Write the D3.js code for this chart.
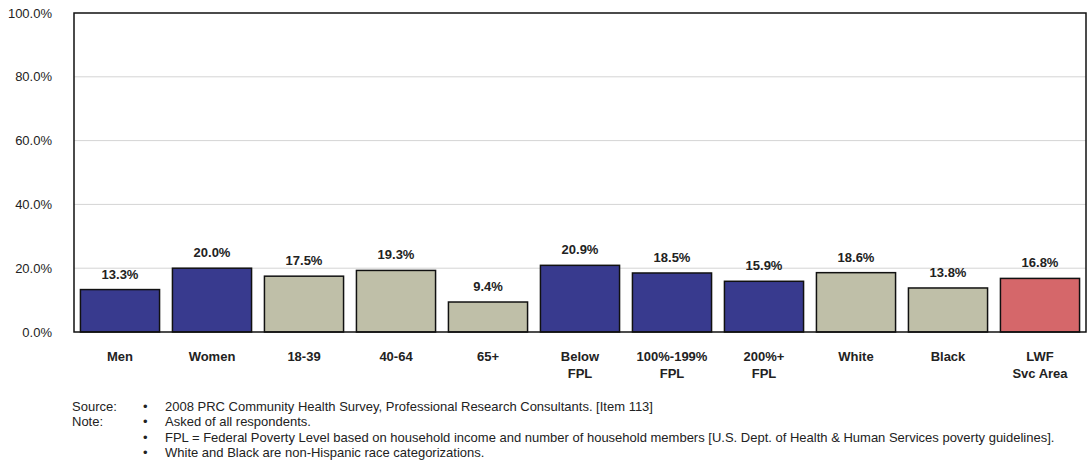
<!DOCTYPE html>
<html>
<head>
<meta charset="utf-8">
<script src="https://cdn.jsdelivr.net/npm/d3@7"></script>
<style>
  body { margin: 0; background: #fff; }
  svg { display: block; font-family: "Liberation Sans", Arial, sans-serif; }
</style>
</head>
<body>
<svg id="chart" width="1091" height="470"></svg>
<script>
// Categories (multi-line labels split on "\n")
const categories = ["Men", "Women", "18-39", "40-64", "65+", "Below\nFPL", "100%-199%\nFPL", "200%+\nFPL", "White", "Black", "LWF\nSvc Area"];
const values = [13.3, 20.0, 17.5, 19.3, 9.4, 20.9, 18.5, 15.9, 18.6, 13.8, 16.8];
const groups = ["sex", "sex", "age", "age", "age", "income", "income", "income", "race", "race", "total"];
const yTicks = [0, 20, 40, 60, 80, 100];
const notes = [
  ["Source:", "2008 PRC Community Health Survey, Professional Research Consultants. [Item 113]"],
  ["Note:", "Asked of all respondents."],
  ["", "FPL = Federal Poverty Level based on household income and number of household members [U.S. Dept. of Health & Human Services poverty guidelines]."],
  ["", "White and Black are non-Hispanic race categorizations."]
];

const groupColor = {
  sex: "#383a8e",
  age: "#bfbfa8",
  income: "#383a8e",
  race: "#bfbfa8",
  total: "#d5676a"
};

const svg = d3.select("#chart");
const margin = { left: 74, right: 1086, top: 13, bottom: 332 };

const x = d3.scaleBand()
  .domain(categories)
  .range([margin.left, margin.right])
  .paddingInner(0.14)
  .paddingOuter(0.07);

const y = d3.scaleLinear().domain([0, 100]).range([margin.bottom, margin.top]);

// Gridlines
svg.append("g")
  .selectAll("line")
  .data(yTicks.filter(t => t > 0 && t < 100))
  .join("line")
  .attr("x1", margin.left).attr("x2", margin.right)
  .attr("y1", d => y(d)).attr("y2", d => y(d))
  .attr("stroke", "#d4d4d4").attr("stroke-width", 1);

// Y axis labels
const yAxis = d3.axisLeft(y).tickValues(yTicks).tickSize(0).tickPadding(22)
  .tickFormat(d => d.toFixed(1) + "%");
const gy = svg.append("g").attr("transform", `translate(${margin.left},0)`).call(yAxis);
gy.select(".domain").remove();
gy.selectAll("text").attr("font-size", 13).attr("fill", "#222")
  .attr("font-family", "'Liberation Sans', Arial, sans-serif");

// Bars
svg.append("g")
  .selectAll("rect")
  .data(categories)
  .join("rect")
  .attr("x", d => x(d))
  .attr("width", x.bandwidth())
  .attr("y", (d, i) => y(values[i]))
  .attr("height", (d, i) => y(0) - y(values[i]))
  .attr("fill", (d, i) => groupColor[groups[i]])
  .attr("stroke", "#111")
  .attr("stroke-width", 1.5);

// Value labels
svg.append("g")
  .selectAll("text")
  .data(categories)
  .join("text")
  .attr("x", d => x(d) + x.bandwidth() / 2)
  .attr("y", (d, i) => y(values[i]) - 11)
  .attr("text-anchor", "middle")
  .attr("font-size", 13)
  .attr("font-weight", "bold")
  .attr("fill", "#222")
  .text((d, i) => values[i].toFixed(1) + "%");

// Plot frame
svg.append("rect")
  .attr("x", margin.left).attr("y", margin.top)
  .attr("width", margin.right - margin.left)
  .attr("height", margin.bottom - margin.top)
  .attr("fill", "none").attr("stroke", "#111").attr("stroke-width", 1.5);

// Category labels
const xl = svg.append("g")
  .selectAll("text")
  .data(categories)
  .join("text")
  .attr("x", d => x(d) + x.bandwidth() / 2)
  .attr("y", 361)
  .attr("text-anchor", "middle")
  .attr("font-size", 13)
  .attr("font-weight", "bold")
  .attr("fill", "#222");
xl.selectAll("tspan")
  .data(d => d.split("\n").map(s => ({ s, c: d })))
  .join("tspan")
  .attr("x", d => x(d.c) + x.bandwidth() / 2)
  .attr("dy", (d, i) => i === 0 ? 0 : 17)
  .text(d => d.s);

// Footnotes
const fn = svg.append("g").attr("font-size", 13).attr("fill", "#222");
notes.forEach((n, i) => {
  const yy = 410.5 + i * 15.5;
  if (n[0]) fn.append("text").attr("x", 72).attr("y", yy).text(n[0]);
  fn.append("text").attr("x", 143).attr("y", yy).text("•");
  fn.append("text").attr("x", 165).attr("y", yy).text(n[1]);
});
</script>
</body>
</html>
